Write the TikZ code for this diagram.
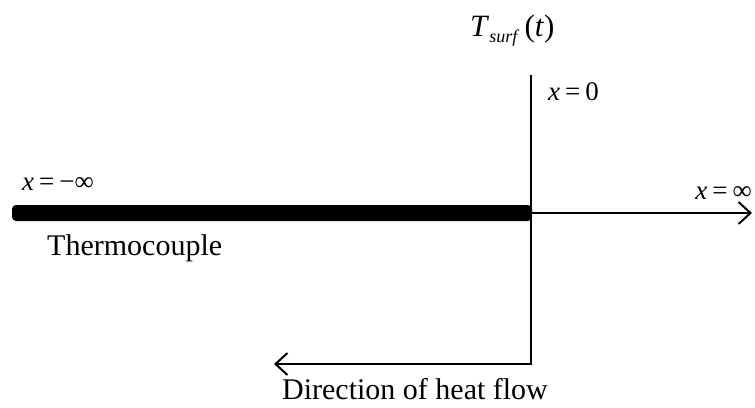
\documentclass[tikz,border=0pt]{standalone}
\usepackage{fontspec}
\setmainfont{Liberation Serif}
\usetikzlibrary{arrows.meta}
\tikzset{
  thinline/.style={line width=2.2pt},
  openhead/.style={-{Straight Barb[length=12pt,width=22pt,line width=2pt]}},
  lbl/.style={inner sep=0pt, font=\fontsize{30}{36}\selectfont},
  mlbl/.style={inner sep=0pt, font=\fontsize{27}{32}\selectfont}
}
\newcommand{\eqsp}{\hspace{5pt}}
\begin{document}
\begin{tikzpicture}[x=1pt,y=-1pt]
\useasboundingbox (0,0) rectangle (755,407);
\coordinate (top) at (531,75);
\coordinate (J) at (531,213);
\coordinate (bot) at (531,364);
\coordinate (R) at (752,213);
\coordinate (Lh) at (274,364);
% thermocouple bar
\fill[rounded corners=4pt] (12,205) rectangle (532,221);
% axes
\draw[thinline] (top) -- (J);
\draw[thinline, openhead] (J) -- (R);
\draw[thinline, line join=miter, openhead] (J) -- (bot) -- (Lh);
% labels
\node[lbl, anchor=base west] (tc) at (47,255) {Thermocouple};
\node[lbl, anchor=base] (dir) at (415,399) {Direction of heat flow};
\node[mlbl, anchor=base west] (xm) at (22,190) {\textit{x}\eqsp=\eqsp−∞};
\node[mlbl, anchor=base east] (xp) at (752,199) {\textit{x}\eqsp=\eqsp∞};
\node[mlbl, anchor=base west] (x0) at (548,100) {\textit{x}\eqsp=\eqsp0};
\node[inner sep=0pt, anchor=base west] (T) at (470,36)
  {\fontsize{31}{36}\selectfont\textit{T}\raisebox{-6pt}{\fontsize{18}{20}\selectfont\textit{surf}}\,(\textit{t})};
\end{tikzpicture}
\end{document}
